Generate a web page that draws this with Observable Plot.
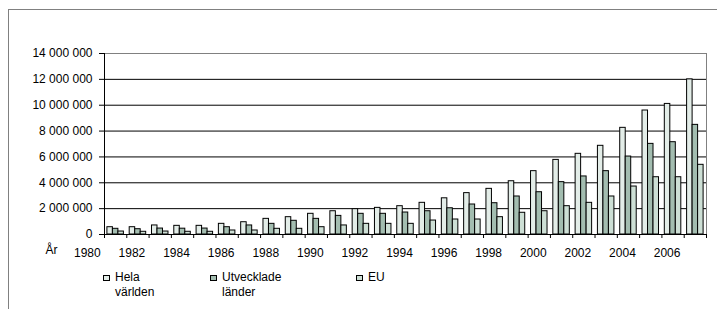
<!DOCTYPE html>
<html>
<head>
<meta charset="utf-8">
<script src="https://cdn.jsdelivr.net/npm/d3@7"></script>
<script src="https://cdn.jsdelivr.net/npm/@observablehq/plot@0.6"></script>
<style>
  html, body { margin: 0; padding: 0; background: #fff; }
  #wrap { position: relative; width: 717px; height: 309px; font-family: "Liberation Sans", Arial, sans-serif; }
  #frame { position: absolute; left: 8px; top: 9px; width: 709px; height: 300px; border-top: 1px solid #808080; border-left: 1px solid #808080; box-sizing: border-box; pointer-events: none; }
  .lg { position: absolute; top: 270px; font-size: 12px; line-height: 15px; color: #000; }
  .lg .sw { position: absolute; left: 0; top: 5px; width: 7px; height: 6px; border: 1px solid #000; box-sizing: border-box; }
  .lg .tx { margin-left: 12px; }
</style>
</head>
<body>
<div id="wrap">
  <div id="chart"></div>
  <div id="frame"></div>
  <div id="legend"></div>
</div>
<script>
const years = [1981, 1982, 1983, 1984, 1985, 1986, 1987, 1988, 1989, 1990, 1991, 1992, 1993, 1994,
               1995, 1996, 1997, 1998, 1999, 2000, 2001, 2002, 2003, 2004, 2005, 2006, 2007];
const seriesNames = ["Hela världen", "Utvecklade länder", "EU"];
const seriesLines = [["Hela", "världen"], ["Utvecklade", "länder"], ["EU"]];
const helaVarlden = [565000, 565000, 700000, 670000, 670000, 825000, 950000, 1210000, 1340000, 1600000,
                     1800000, 1960000, 2060000, 2190000, 2450000, 2800000, 3200000, 3530000, 4120000, 4900000,
                     5770000, 6240000, 6860000, 8250000, 9590000, 10100000, 12000000];
const utveckladeLander = [440000, 410000, 460000, 450000, 460000, 565000, 700000, 825000, 1060000, 1210000,
                          1440000, 1600000, 1600000, 1700000, 1800000, 2030000, 2320000, 2420000, 2940000, 3270000,
                          4050000, 4490000, 4900000, 6030000, 7010000, 7140000, 8480000];
const eu = [230000, 210000, 230000, 210000, 210000, 310000, 310000, 440000, 440000, 565000,
            700000, 825000, 825000, 825000, 1080000, 1160000, 1160000, 1340000, 1680000, 1800000,
            2190000, 2450000, 2940000, 3710000, 4430000, 4430000, 5390000];
const xLabels = [1980, 1982, 1984, 1986, 1988, 1990, 1992, 1994, 1996, 1998, 2000, 2002, 2004, 2006];
const yTicks = [0, 2000000, 4000000, 6000000, 8000000, 10000000, 12000000, 14000000];
const colors = ["#e3ede8", "#a3bdb0", "#cddfd5"];

const seriesArrays = [helaVarlden, utveckladeLander, eu];
const rows = years.flatMap((yr, j) => seriesArrays.map((arr, i) => ({year: yr, series: seriesNames[i], i, value: arr[j]})));
const boundaries = years.map(y => y - 0.5).concat([years[years.length - 1] + 0.5]);
const groupWidth = 0.74, barW = groupWidth / 3;
const fmt = d => d3.format(",")(d).replace(/,/g, " ");

const chart = Plot.plot({
  width: 717,
  height: 309,
  marginLeft: 104,
  marginRight: 11,
  marginTop: 53,
  marginBottom: 75,
  style: {fontFamily: '"Liberation Sans", Arial, sans-serif', fontSize: "12px", color: "#000", background: "transparent"},
  x: {domain: [boundaries[0], boundaries[boundaries.length - 1]]},
  y: {domain: [0, 14000000]},
  color: {domain: seriesNames, range: colors},
  marks: [
    Plot.gridY(yTicks.filter(v => v > 0 && v < 14000000), {stroke: "#000", strokeOpacity: 1}),
    Plot.ruleY([14000000], {stroke: "#808080"}),
    Plot.ruleX([boundaries[boundaries.length - 1]], {stroke: "#808080"}),
    Plot.rectY(rows, {
      x1: d => d.year - groupWidth / 2 + d.i * barW,
      x2: d => d.year - groupWidth / 2 + (d.i + 1) * barW,
      y: "value",
      fill: "series",
      stroke: "#000",
      strokeWidth: 1
    }),
    Plot.ruleX([boundaries[0]], {stroke: "#000"}),
    Plot.ruleY([0], {stroke: "#000"}),
    Plot.axisY({ticks: yTicks, tickSize: 5, tickPadding: 7, tickFormat: fmt, label: null, fontSize: 12}),
    Plot.axisX({ticks: boundaries, tickSize: 4, tickFormat: () => "", label: null}),
    Plot.axisX({ticks: xLabels, tickSize: 0, tickPadding: 14, dx: -6, tickFormat: d => String(d), label: null, fontSize: 12}),
    Plot.text(["År"], {frameAnchor: "bottom-left", dx: -59, dy: 19, fontSize: 12})
  ]
});
document.getElementById("chart").appendChild(chart);

const legendX = [103, 210, 356];
const legend = document.getElementById("legend");
seriesNames.forEach((name, i) => {
  const item = document.createElement("div");
  item.className = "lg";
  item.style.left = legendX[i] + "px";
  const sw = document.createElement("div");
  sw.className = "sw";
  sw.style.background = colors[i];
  item.appendChild(sw);
  const tx = document.createElement("div");
  tx.className = "tx";
  tx.innerHTML = seriesLines[i].join("<br>");
  item.appendChild(tx);
  legend.appendChild(item);
});
</script>
</body>
</html>
